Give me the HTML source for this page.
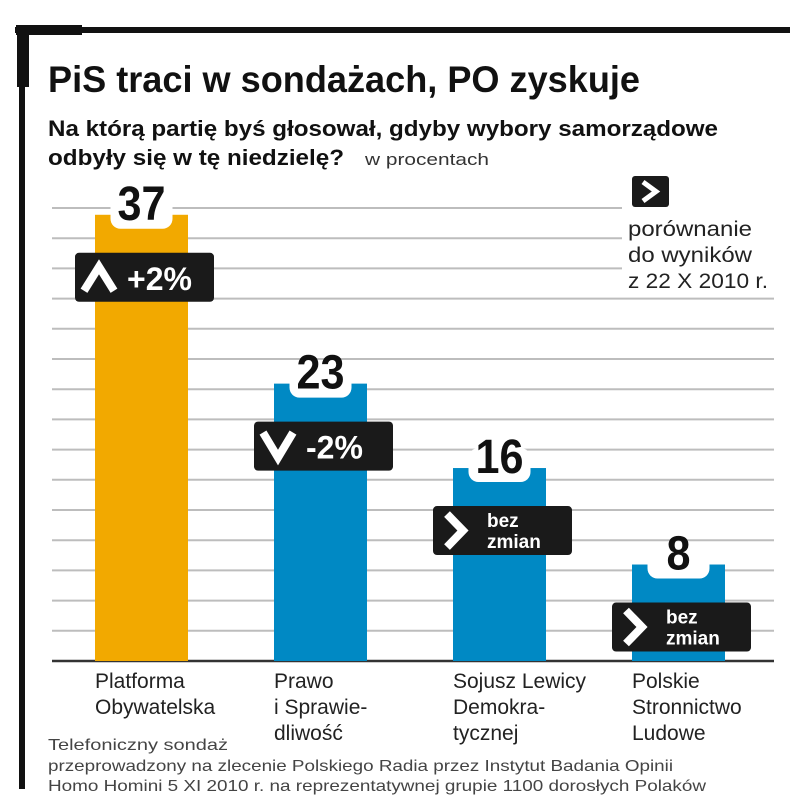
<!DOCTYPE html>
<html><head><meta charset="utf-8"><style>
html,body{margin:0;padding:0;background:#fff}
svg{display:block}
text{font-family:"Liberation Sans Narrow","Liberation Sans",sans-serif}
</style></head><body>
<svg id="c" width="805" height="811" viewBox="0 0 805 811">
<rect x="15" y="27" width="775" height="6" fill="#111"/>
<rect x="16" y="25" width="66" height="10" fill="#111"/>
<rect x="17" y="27" width="12" height="60" fill="#111"/>
<rect x="19" y="27" width="6" height="762" fill="#111"/>
<text x="48" y="92" font-size="37" font-weight="bold" fill="#111" textLength="592" lengthAdjust="spacingAndGlyphs">PiS traci w sondażach, PO zyskuje</text>
<text x="48" y="136" font-size="22" font-weight="bold" fill="#111" textLength="670" lengthAdjust="spacingAndGlyphs">Na którą partię byś głosował, gdyby wybory samorządowe</text>
<text x="48" y="165" font-size="22" font-weight="bold" fill="#111" textLength="296" lengthAdjust="spacingAndGlyphs">odbyły się w tę niedzielę?</text>
<text x="365" y="165" font-size="17" fill="#333" textLength="124" lengthAdjust="spacingAndGlyphs">w procentach</text>
<g id="grid"></g>
<g id="bars"></g>
<rect x="632" y="176" width="37" height="31" rx="3" fill="#1a1a1a"/>
<path d="M643 182 L656 191.5 L643 201" stroke="#fff" stroke-width="5" fill="none"/>
<text x="628" y="236" font-size="21" fill="#222" textLength="124" lengthAdjust="spacingAndGlyphs">porównanie</text>
<text x="628" y="262" font-size="21" fill="#222" textLength="124" lengthAdjust="spacingAndGlyphs">do wyników</text>
<text x="628" y="288" font-size="21" fill="#222" textLength="140" lengthAdjust="spacingAndGlyphs">z 22 X 2010 r.</text>
<g font-size="16" fill="#444">
<text x="48" y="750" textLength="180" lengthAdjust="spacingAndGlyphs">Telefoniczny sondaż</text>
<text x="48" y="771" textLength="625" lengthAdjust="spacingAndGlyphs">przeprowadzony na zlecenie Polskiego Radia przez Instytut Badania Opinii</text>
<text x="48" y="791" textLength="658" lengthAdjust="spacingAndGlyphs">Homo Homini 5 XI 2010 r. na reprezentatywnej grupie 1100 dorosłych Polaków</text>
</g>
</svg>
<script>
const categories=[["Platforma","Obywatelska"],["Prawo","i Sprawie-","dliwość"],["Sojusz Lewicy","Demokra-","tycznej"],["Polskie","Stronnictwo","Ludowe"]];
const values=[37,23,16,8];
const changes=["+2%","-2%","bez zmian","bez zmian"];
const changeDir=["up","down","same","same"];
const colors=["#f2a900","#0089c4","#0089c4","#0089c4"];
const NS="http://www.w3.org/2000/svg";
const base=661, unit=12.06, x0=95, step=179, bw=93;
const y=v=>base-v*unit, xb=i=>x0+i*step;
function mk(tag,attrs,parent){const e=document.createElementNS(NS,tag);for(const k in attrs)e.setAttribute(k,attrs[k]);parent.appendChild(e);return e;}
const grid=document.getElementById('grid'), bars=document.getElementById('bars');
for(let k=1;k<=15;k++){
  const gy=base-k*30.2;
  const l=mk('line',{x1:52,x2:gy<290?622:774,y1:gy,y2:gy,stroke:'#bdbdbd','stroke-width':2},grid);
  
  
}
const bl=mk('line',{x1:52,x2:774,y1:base,y2:base,stroke:'#333','stroke-width':2.5},grid);


values.forEach((v,i)=>{
  const x=xb(i), top=y(v);
  const r=mk('rect',{x:x,y:top,width:bw,height:base-top,fill:colors[i]},bars);
  
  
  const n=mk('rect',{x:x+bw/2-31,y:top-20,width:62,height:34,rx:10,fill:'#fff'},bars);
  
  
  const t=mk('text',{x:x+bw/2,y:top+5,'text-anchor':'middle','font-size':48,'font-weight':'bold',fill:'#111',textLength:String(v).length*24,lengthAdjust:'spacingAndGlyphs'},bars);
  t.textContent=v;
  
  
  const bx=x-20, by=top+38;
  const b=mk('rect',{x:bx,y:by,width:139,height:49,rx:4,fill:'#1a1a1a'},bars);
  
  
  let d;
  if(changeDir[i]==='up') d=`M${bx+9} ${by+38} L${bx+24} ${by+14} L${bx+39} ${by+38}`;
  else if(changeDir[i]==='down') d=`M${bx+9} ${by+11} L${bx+24} ${by+36} L${bx+39} ${by+11}`;
  else d=`M${bx+14} ${by+8} L${bx+30} ${by+24.5} L${bx+14} ${by+41}`;
  const a=mk('path',{d:d,stroke:'#fff','stroke-width':8,fill:'none'},bars);
  
  
  if(changes[i]==='bez zmian'){
    ['bez','zmian'].forEach((w,j)=>{
      const ct=mk('text',{x:bx+54,y:by+21+j*21,'font-size':19,'font-weight':'bold',fill:'#fff'},bars);
      ct.textContent=w;
      
      
    });
  } else {
    const ct=mk('text',{x:bx+52,y:by+37,'font-size':32,'font-weight':'bold',fill:'#fff'},bars);
    ct.textContent=changes[i];
    
    
  }
  categories[i].forEach((line,j)=>{
    const c=mk('text',{x:x,y:688+j*26,'font-size':21,fill:'#222'},bars);
    c.textContent=line;
    
    
  });
});
</script>
</body></html>
